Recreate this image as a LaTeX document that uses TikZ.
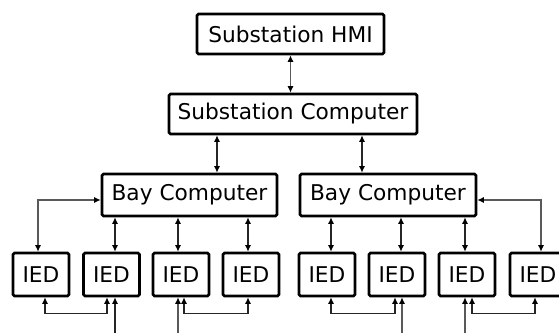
\documentclass[tikz,border=0pt]{standalone}
\usepackage{fontspec}
\setmainfont{DejaVu Sans}
\usetikzlibrary{arrows.meta}
\begin{document}
\begin{tikzpicture}[x=1pt,y=-1pt,
  box/.style={draw,line width=2.6pt,rounded corners=1.5pt,inner sep=0pt,
    font=\fontsize{21.7pt}{24pt}\selectfont},
  ied/.style={box,minimum width=56pt,minimum height=43pt},
  link/.style={line width=1.1pt,draw=black!85,>={Latex[length=6.5pt,width=6pt,color=black]}},
  side/.style={link,draw=black!65}]
\useasboundingbox (0,0) rectangle (559,332);
\node[box,minimum width=187pt,minimum height=40pt] (hmi) at (290.5,34) {Substation HMI};
\node[box,minimum width=248pt,minimum height=40pt] (comp) at (293,114) {Substation Computer};
\node[box,minimum width=175pt,minimum height=42pt] (bay1) at (189.5,195) {Bay Computer};
\node[box,minimum width=176pt,minimum height=42pt] (bay2) at (388,195) {Bay Computer};
\foreach \i/\x in {1/41,2/111.5,3/181,4/251,5/327,6/397,7/467,8/538}
  \node[ied] (ied\i) at (\x,274.5) {IED};
% top links
\draw[side,<->] (hmi.south) -- (hmi.south |- comp.north);
\path (bay1.north) ++(27.5,0) coordinate (c1);
\path (bay2.north) ++(-26,0) coordinate (c2);
\draw[link,<->] (c1 |- comp.south) -- (c1);
\draw[link,<->] (c2 |- comp.south) -- (c2);
% bay to IED
\path (ied1.north) ++(-3,0) coordinate (d1);
\path (ied2.north) ++(3.5,0) coordinate (d2);
\path (ied3.north) ++(-3,0) coordinate (d3);
\path (ied4.north) ++(-3,0) coordinate (d4);
\path (ied5.north) ++(4,0) coordinate (d5);
\path (ied6.north) ++(4,0) coordinate (d6);
\path (ied7.north) ++(-2,0) coordinate (d7);
\path (ied8.north) ++(3,0) coordinate (d8);
\foreach \d in {d2,d3,d4} \draw[link,<->] (\d |- bay1.south) -- (\d);
\foreach \d in {d5,d6,d7} \draw[link,<->] (\d |- bay2.south) -- (\d);
\path (bay1.west) ++(0,5) coordinate (l1);
\path (bay2.east) ++(0,5) coordinate (r2);
\draw[side,<->] (l1) -| (d1);
\draw[side,<->] (r2) -| (d8);
% bottom links
\path (ied1.south) ++(4,0) coordinate (e1);
\path (ied2.south) ++(-4.5,0) coordinate (e2a);
\path (ied2.south) ++(3.5,0) coordinate (e2b);
\path (ied3.south) ++(-3,0) coordinate (e3a);
\path (ied3.south) ++(3,0) coordinate (e3b);
\path (ied4.south) ++(-3,0) coordinate (e4);
\path (ied5.south) ++(4,0) coordinate (e5);
\path (ied6.south) ++(-2,0) coordinate (e6a);
\path (ied6.south) ++(5,0) coordinate (e6b);
\path (ied7.south) ++(-2,0) coordinate (e7a);
\path (ied7.south) ++(5,0) coordinate (e7b);
\path (ied8.south) ++(-3,0) coordinate (e8);
\draw[link,<->] (e1) -- ++(0,16) -| (e2a);
\draw[link,<->] (e3b) -- ++(0,16) -| (e4);
\draw[link,<->] (e5) -- ++(0,16) -| (e6a);
\draw[link,<->] (e7b) -- ++(0,16) -| (e8);
\draw[link,<-] (e2b) -- ++(0,40);
\draw[side,<-] (e3a) -- ++(0,40);
\draw[side,<-] (e6b) -- ++(0,40);
\draw[side,<-] (e7a) -- ++(0,40);
\end{tikzpicture}
\end{document}
